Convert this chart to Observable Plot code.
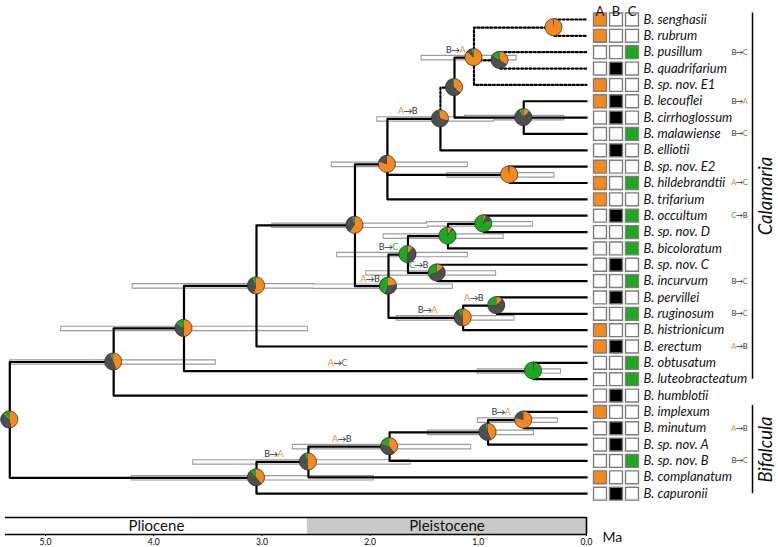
<!DOCTYPE html>
<html><head><meta charset="utf-8">
<script src="https://cdn.jsdelivr.net/npm/d3@7"></script>
<script src="https://cdn.jsdelivr.net/npm/@observablehq/plot@0.6"></script>
<style>body{margin:0;background:#fff}#chart svg{display:block}</style>
</head><body><div id="chart"></div>
<script>
// ---------- data ----------
const taxa = ["B. senghasii","B. rubrum","B. pusillum","B. quadrifarium","B. sp. nov. E1","B. lecouflei","B. cirrhoglossum","B. malawiense","B. elliotii","B. sp. nov. E2","B. hildebrandtii","B. trifarium","B. occultum","B. sp. nov. D","B. bicoloratum","B. sp. nov. C","B. incurvum","B. pervillei","B. ruginosum","B. histrionicum","B. erectum","B. obtusatum","B. luteobracteatum","B. humblotii","B. implexum","B. minutum","B. sp. nov. A","B. sp. nov. B","B. complanatum","B. capuronii"];
const tipStates = ["A","A","C","B","A","AB","B","C","B","A","AC","A","BC","C","C","B","C","B","C","A","AB","C","C","B","A","B","B","C","A","B"];
const areas = ["A","B","C"];
const nodes = [
  {id:"root", age:5.33, children:["N1","BF1"]},
  {id:"N1", age:4.37, children:["N2","B. humblotii"]},
  {id:"N2", age:3.72, children:["N3","O"]},
  {id:"N3", age:3.05, children:["N4","B. erectum"]},
  {id:"N4", age:2.14, children:["U","M"]},
  {id:"U", age:1.84, children:["V","EH","B. trifarium"]},
  {id:"V", age:1.35, children:["W","B. elliotii"]},
  {id:"W", age:1.22, children:["X","Y"]},
  {id:"X", age:1.04, children:["Z","X2","B. sp. nov. E1"]},
  {id:"Z", age:0.30, children:["B. senghasii","B. rubrum"]},
  {id:"X2", age:0.80, children:["B. pusillum","B. quadrifarium"]},
  {id:"Y", age:0.58, children:["B. lecouflei","B. cirrhoglossum","B. malawiense"]},
  {id:"EH", age:0.71, children:["B. sp. nov. E2","B. hildebrandtii"]},
  {id:"M", age:1.83, children:["P","H"]},
  {id:"P", age:1.65, children:["Q","S"]},
  {id:"Q", age:1.28, children:["R2","B. bicoloratum"]},
  {id:"R2", age:0.95, children:["B. occultum","B. sp. nov. D"]},
  {id:"S", age:1.38, children:["B. sp. nov. C","B. incurvum"]},
  {id:"H", age:1.14, children:["T","B. histrionicum"]},
  {id:"T", age:0.83, children:["B. pervillei","B. ruginosum"]},
  {id:"O", age:0.49, children:["B. obtusatum","B. luteobracteatum"]},
  {id:"BF1", age:3.05, children:["BF2","B. capuronii"]},
  {id:"BF2", age:2.57, children:["BF3","B. complanatum"]},
  {id:"BF3", age:1.82, children:["BF4","B. sp. nov. B"]},
  {id:"BF4", age:0.91, children:["BF5","B. sp. nov. A"]},
  {id:"BF5", age:0.58, children:["B. implexum","B. minutum"]}
];
// ancestral area probabilities [A, B, C]
const nodeProbs = {
  root:[.46,.42,.12], N1:[.43,.52,.05], N2:[.50,.35,.15], N3:[.53,.41,.06], N4:[.58,.38,.04],
  U:[.79,.21,0], V:[.28,.70,.02], W:[.36,.62,.02], X:[.85,.13,.02], Z:[.98,.02,0], X2:[.33,.52,.15],
  Y:[.12,.81,.07], EH:[.97,.03,0], M:[.22,.36,.42], P:[.10,.40,.50], Q:[.07,.06,.87], R2:[.05,.15,.80],
  S:[.13,.58,.29], H:[.50,.42,.08], T:[.12,.63,.25], O:[.01,.02,.97],
  BF1:[.38,.52,.10], BF2:[.50,.45,.05], BF3:[.38,.42,.20], BF4:[.42,.55,.03], BF5:[.77,.22,.01]
};
// 95% HPD of node ages [older, younger] in Ma
const nodeHPD = {
  N1:[5.32,3.43], N2:[4.85,2.58], N3:[4.19,2.52], N4:[2.90,1.47], U:[2.35,1.10], V:[1.93,0.86],
  X:[1.52,0.65], Y:[1.12,0.21], EH:[1.28,0.30], M:[2.52,1.24], P:[2.30,1.10], Q:[1.87,0.77],
  R2:[1.47,0.50], S:[2.03,0.84], H:[1.75,0.67], O:[1.00,0.24],
  BF1:[4.20,1.97], BF2:[3.63,1.63], BF3:[2.71,1.07], BF4:[1.46,0.49], BF5:[1.00,0.27]
};
const dottedBranches = ["W","X2","Z","B. sp. nov. E1","B. senghasii","B. rubrum","B. pusillum","B. quadrifarium"];
const branchShifts = [
  {child:"X", age:1.21, from:"B", to:"A"},
  {child:"V", age:1.65, from:"A", to:"B"},
  {child:"M", age:2.00, from:"A", to:"B"},
  {child:"P", age:1.83, from:"B", to:"C"},
  {child:"S", age:1.55, from:"C", to:"B"},
  {child:"H", age:1.47, from:"B", to:"A"},
  {child:"T", age:1.04, from:"A", to:"B"},
  {child:"O", age:2.30, from:"A", to:"C"},
  {child:"BF2", age:2.89, from:"B", to:"A"},
  {child:"BF3", age:2.26, from:"A", to:"B"},
  {child:"BF5", age:0.79, from:"B", to:"A"}
];
const tipShifts = [
  {taxon:"B. pusillum", from:"B", to:"C"},
  {taxon:"B. lecouflei", from:"B", to:"A"},
  {taxon:"B. malawiense", from:"B", to:"C"},
  {taxon:"B. hildebrandtii", from:"A", to:"C"},
  {taxon:"B. occultum", from:"C", to:"B"},
  {taxon:"B. incurvum", from:"B", to:"C"},
  {taxon:"B. ruginosum", from:"B", to:"C"},
  {taxon:"B. erectum", from:"A", to:"B"},
  {taxon:"B. minutum", from:"A", to:"B"},
  {taxon:"B. sp. nov. B", from:"B", to:"C"}
];
const clades = [
  {name:"Calamaria", first:"B. senghasii", last:"B. luteobracteatum"},
  {name:"Bifalcula", first:"B. implexum", last:"B. capuronii"}
];
const epochs = [{name:"Pliocene", start:5.37, end:2.58},{name:"Pleistocene", start:2.58, end:0}];
const timeTicks = [5,4,3,2,1,0];

// ---------- styles ----------
const ORANGE = "#f5891f", GREEN = "#1fa81f", GRAY = "#4f4f4f";
const pieColors = [ORANGE, GRAY, GREEN];
const boxColors = {A: ORANGE, B: "#000", C: GREEN};
const letterColors = {A: ORANGE, B: "#333", C: "#2ea42e"};
const FONT = "Lato, 'Open Sans', sans-serif";

// ---------- layout from tree ----------
const tipIndex = new Map(taxa.map((t,i)=>[t,i]));
const nodeById = new Map(nodes.map(n=>[n.id,n]));
const pos = new Map();
taxa.forEach((t,i)=>pos.set(t,{age:0,y:i}));
function place(id){
  if (pos.has(id)) return pos.get(id);
  const n = nodeById.get(id);
  const p = {age:n.age, y:d3.mean(n.children, c=>place(c).y)};
  pos.set(id,p); return p;
}
place("root");
const edges = [];
for (const n of nodes) for (const c of n.children) edges.push({parent:n.id, child:c, dotted:dottedBranches.includes(c)});
const edgePts = edges.flatMap(e=>{
  const p = pos.get(e.parent), c = pos.get(e.child);
  return [{e, age:p.age, y:p.y},{e, age:p.age, y:c.y},{e, age:c.age, y:c.y}];
});
const hpd = Object.entries(nodeHPD).map(([id,[hi,lo]])=>({id,hi,lo,y:pos.get(id).y}));
const pies = Object.entries(nodeProbs).map(([id,p])=>({id,p,...pos.get(id)}));
const bShift = branchShifts.map(d=>({...d, y:pos.get(d.child).y}));
const tShift = tipShifts.map(d=>({...d, age:0, y:tipIndex.get(d.taxon)}));
const boxes = taxa.map((t,i)=>({t,i,s:tipStates[i]}));
const cladeRows = clades.map(c=>{
  const a = tipIndex.get(c.first), b = tipIndex.get(c.last);
  return {name:c.name, y1:a-0.4, y2:b, mid:(a-0.4+b)/2};
});

function shiftMarks(data, {dx=0, dy=0, size=8.5, gap=3.6}={}) {
  return [
    Plot.text(data, {x:"age", y:"y", text:"from", dx:dx-gap, dy, textAnchor:"end", fontSize:size, fill:d=>letterColors[d.from]}),
    Plot.text(data, {x:"age", y:"y", text:()=>"→", dx, dy, fontSize:size, fill:"#333"}),
    Plot.text(data, {x:"age", y:"y", text:"to", dx:dx+gap, dy, textAnchor:"start", fontSize:size, fill:d=>letterColors[d.to]})
  ];
}

const R = 8.6;
function pieMark(index, scales) {
  const g = d3.create("svg:g");
  const pie = d3.pie().sort(null).value(v=>v);
  const arc = d3.arc().innerRadius(0).outerRadius(R);
  for (const d of pies) {
    const gg = g.append("g").attr("transform", `translate(${scales.x(d.age)},${scales.y(d.y)})`);
    gg.selectAll("path").data(pie(d.p)).join("path").attr("d", arc).attr("fill",(s,i)=>pieColors[i]);
    gg.append("circle").attr("r",R).attr("fill","none").attr("stroke","#2a2a2a").attr("stroke-width",0.7);
  }
  return g.node();
}

const tree = Plot.plot({
  width:778, height:510, margin:0,
  x:{domain:[5,0], range:[45,586], axis:null},
  y:{domain:[0,29], range:[19, 19+29*16.35], axis:null},
  color:{type:"identity"},
  style:{fontFamily:FONT, fontSize:"10px", background:"#fff"},
  marks:[
    Plot.ruleY(hpd, {y:"y", x1:"hi", x2:"lo", stroke:"#9a9a9a", strokeWidth:5.6, insetLeft:-1, insetRight:-1}),
    Plot.ruleY(hpd, {y:"y", x1:"hi", x2:"lo", stroke:"#fff", strokeWidth:3.2}),
    Plot.line(edgePts.filter(d=>!d.e.dotted), {x:"age", y:"y", z:d=>d.e.child, stroke:"#000", strokeWidth:2.2, strokeLinecap:"square"}),
    Plot.line(edgePts.filter(d=>d.e.dotted), {x:"age", y:"y", z:d=>d.e.child, stroke:"#000", strokeWidth:2.2, strokeDasharray:"2,2.2"}),
    pieMark,
    ...shiftMarks(bShift, {dy:-7.5, size:9, gap:3.8}),
    ...areas.map((a,k)=>Plot.dot(boxes, {x:()=>0, y:"i", dx:13.5+16*k, symbol:"square", r:7.3,
        fill:d=>d.s.includes(a)?boxColors[a]:"#fff", stroke:"#7d7d7d", strokeWidth:1.4})),
    ...areas.map((a,k)=>Plot.text([a], {x:()=>0, frameAnchor:"top", dx:13.5+16*k, dy:6.5, text:d=>d, fontSize:13, fill:"#111"})),
    Plot.text(taxa, {x:()=>0, y:(d,i)=>i, dx:57, text:d=>d, textAnchor:"start", fontStyle:"italic", fontSize:13, fill:"#111"}),
    ...shiftMarks(tShift, {dx:153, size:7.5, gap:3.2}),
    Plot.ruleX(cladeRows, {x:()=>0, dx:166, y1:"y1", y2:"y2", stroke:"#000", strokeWidth:1.5}),
    Plot.text(cladeRows, {x:()=>0, dx:180, y:"mid", text:"name", rotate:-90, fontSize:18.5, fontStyle:"italic", fill:"#111"})
  ]
});

const axis = Plot.plot({
  width:778, height:37, marginTop:7, marginBottom:13, marginLeft:0, marginRight:0,
  x:{domain:[5,0], range:[45,586], ticks:timeTicks, tickFormat:d=>d.toFixed(1), tickSize:2, tickPadding:2, label:null},
  y:{domain:[0,1], range:[7,24], axis:null},
  style:{fontFamily:FONT, fontSize:"8.5px", background:"#fff"},
  marks:[
    Plot.rect(epochs, {x1:"start", x2:"end", fill:d=>d.name==="Pleistocene"?"#cacaca":"#fff"}),
    Plot.ruleY([0,1], {x1:()=>epochs[0].start, x2:()=>0, stroke:"#000", strokeWidth:1.6}),
    Plot.ruleX([0], {stroke:"#000", strokeWidth:1.6}),
    Plot.text(epochs, {x:d=>(d.start+d.end)/2, text:"name", fontSize:15, fill:"#111"}),
    Plot.text(["Ma"], {x:()=>0, frameAnchor:"bottom", dx:16, dy:7, text:d=>d, textAnchor:"start", fontSize:14, fill:"#111"})
  ]
});
document.getElementById("chart").append(tree, axis);
</script></body></html>
